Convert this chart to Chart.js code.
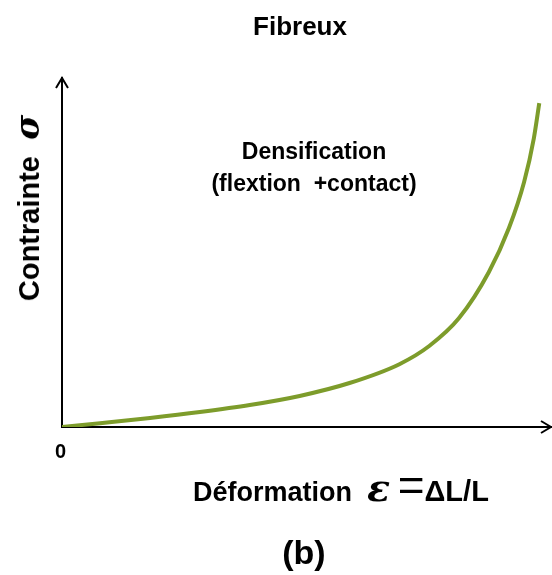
<!DOCTYPE html>
<html>
<head>
<meta charset="utf-8">
<script src="https://cdn.jsdelivr.net/npm/chart.js@4.4.0/dist/chart.umd.min.js"></script>
<style>
  html, body { margin: 0; padding: 0; background: #fff; }
  #wrap { position: relative; width: 552px; height: 575px; font-family: "Liberation Sans", Arial, sans-serif; font-weight: bold; color: #000; }
  #wrap canvas { position: absolute; left: 0; top: 0; }
  .lbl { position: absolute; white-space: nowrap; }
  .sym { font-family: "DejaVu Serif", serif; font-style: italic; font-weight: bold; }
</style>
</head>
<body>
<div id="wrap">
  <canvas id="grafico" width="552" height="575"></canvas>
  <div class="lbl" style="left:0; width:600px; text-align:center; top:11px; font-size:26px;">Fibreux</div>
  <div class="lbl" style="left:164px; width:300px; text-align:center; top:135px; font-size:23px; line-height:32px;">Densification<br>(flextion&nbsp; +contact)</div>
  <div class="lbl" style="left:27px; top:208px; font-size:29px; transform: translate(-50%,-50%) rotate(-90deg);">Contrainte&nbsp; <span class="sym" style="font-size:34px;">σ</span></div>
  <div class="lbl" style="left:55px; top:440px; font-size:20px;">0</div>
  <div class="lbl" style="left:193px; top:472px; font-size:27px;">Déformation&nbsp; <span class="sym" style="font-size:38px; line-height:27px;">ε</span>&nbsp;<span style="font-weight:normal; font-size:46px; line-height:27px;">=</span><span style="font-size:29px;">ΔL/L</span></div>
  <div class="lbl" style="left:4px; width:600px; text-align:center; top:533px; font-size:34px;">(b)</div>
</div>
<script>
// courbe contrainte / deformation (materiau fibreux)
const deformation = [0, 7.8, 18, 28.2, 38.4, 48.6, 58.8, 69, 75.1, 81.2, 87.3, 91.4, 94.5, 96.5, 97.6];
const contrainte  = [0, 1.1, 2.6, 4.3, 6.3, 8.9, 12.6, 18, 23.2, 31.2, 44.4, 57, 70.2, 82.8, 92.8];

const points = deformation.map((x, i) => ({ x: x, y: contrainte[i] }));

// fleches au bout des axes
const fleches = {
    id: 'fleches',
    afterDraw: (chart) => {
        const { ctx, chartArea } = chart;
        const x0 = chart.scales.x.getPixelForValue(0);
        const y0 = chart.scales.y.getPixelForValue(0);
        ctx.save();
        ctx.strokeStyle = '#000';
        ctx.lineWidth = 2;
        ctx.beginPath();
        ctx.moveTo(x0 - 6, chartArea.top + 10);
        ctx.lineTo(x0, chartArea.top);
        ctx.lineTo(x0 + 6, chartArea.top + 10);
        ctx.moveTo(chartArea.right - 10, y0 - 6);
        ctx.lineTo(chartArea.right, y0);
        ctx.lineTo(chartArea.right - 10, y0 + 6);
        ctx.stroke();
        ctx.restore();
    }
};

const config = {
    type: 'line',
    data: {
        datasets: [{
            data: points,
            borderColor: '#7d9c2b',
            borderWidth: 4,
            pointRadius: 0,
            cubicInterpolationMode: 'monotone',
            fill: false
        }]
    },
    options: {
        responsive: false,
        animation: false,
        layout: { padding: { left: 62, right: 1, top: 78, bottom: 148 } },
        plugins: { legend: { display: false }, tooltip: { enabled: false } },
        scales: {
            x: {
                type: 'linear', min: 0, max: 100,
                grid: { display: false, drawTicks: false },
                border: { display: true, color: '#000', width: 2 },
                ticks: { display: false }
            },
            y: {
                type: 'linear', min: 0, max: 100,
                grid: { display: false, drawTicks: false },
                border: { display: true, color: '#000', width: 2 },
                ticks: { display: false }
            }
        }
    },
    plugins: [fleches]
};

new Chart(document.getElementById('grafico'), config);
</script>
</body>
</html>
